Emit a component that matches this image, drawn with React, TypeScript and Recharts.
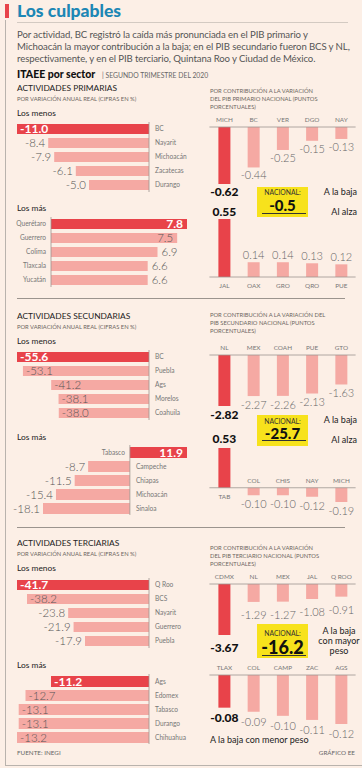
import React from 'react';
import { BarChart, Bar, XAxis, YAxis, ReferenceLine } from 'recharts';

const RED = '#e8434a';
const PINK = '#f5a9a3';
const BG = '#fcefe6';
const TEAL = '#1d87b5';
const YELLOW = '#f7e21c';
const FRAME = '#b9b3ad';
const FONT = 'Lato, "Open Sans", sans-serif';

// Actividades primarias
const primMenosNames = ['BC', 'Nayarit', 'Michoacán', 'Zacatecas', 'Durango'];
const primMenosValues = [-11.0, -8.4, -7.9, -6.1, -5.0];
const primMasNames = ['Querétaro', 'Guerrero', 'Colima', 'Tlaxcala', 'Yucatán'];
const primMasValues = [7.8, 7.5, 6.9, 6.6, 6.6];
const primBajaStates = ['MICH', 'BC', 'VER', 'DGO', 'NAY'];
const primBajaValues = [-0.62, -0.44, -0.25, -0.15, -0.13];
const primAlzaStates = ['JAL', 'OAX', 'GRO', 'QRO', 'PUE'];
const primAlzaValues = [0.55, 0.14, 0.14, 0.13, 0.12];
const primNacional = '-0.5';

// Actividades secundarias
const secMenosNames = ['BC', 'Puebla', 'Ags', 'Morelos', 'Coahuila'];
const secMenosValues = [-55.6, -53.1, -41.2, -38.1, -38.0];
const secMasNames = ['Tabasco', 'Campeche', 'Chiapas', 'Michoacán', 'Sinaloa'];
const secMasValues = [11.9, -8.7, -11.5, -15.4, -18.1];
const secBajaStates = ['NL', 'MEX', 'COAH', 'PUE', 'GTO'];
const secBajaValues = [-2.82, -2.27, -2.26, -2.13, -1.63];
const secAlzaStates = ['TAB', 'COL', 'CHIS', 'NAY', 'MICH'];
const secAlzaValues = [0.53, -0.1, -0.1, -0.12, -0.19];
const secNacional = '-25.7';

// Actividades terciarias
const terMenosNames = ['Q Roo', 'BCS', 'Nayarit', 'Guerrero', 'Puebla'];
const terMenosValues = [-41.7, -38.2, -23.8, -21.9, -17.9];
const terMasNames = ['Ags', 'Edomex', 'Tabasco', 'Durango', 'Chihuahua'];
const terMasValues = [-11.2, -12.7, -13.1, -13.1, -13.2];
const terBajaStates = ['CDMX', 'NL', 'MEX', 'JAL', 'Q ROO'];
const terBajaValues = [-3.67, -1.29, -1.27, -1.08, -0.91];
const terMenorStates = ['TLAX', 'COL', 'CAMP', 'ZAC', 'AGS'];
const terMenorValues = [-0.08, -0.09, -0.1, -0.11, -0.12];
const terNacional = '-16.2';

type Anchor = 'start' | 'middle' | 'end';

function Txt({ x, y, size, children, color = '#333', weight = 400, anchor = 'start', ls = 0 }: {
  x: number; y: number; size: number; children: React.ReactNode; color?: string; weight?: number; anchor?: Anchor; ls?: number;
}) {
  const style: React.CSSProperties = {
    position: 'absolute',
    top: y - size * 0.62,
    fontSize: size,
    lineHeight: `${size * 1.2}px`,
    color,
    fontWeight: weight,
    whiteSpace: 'nowrap',
    letterSpacing: ls,
    fontFamily: FONT,
  };
  if (anchor === 'start') style.left = x;
  else if (anchor === 'end') style.right = 362 - x;
  else {
    style.left = x;
    style.transform = 'translateX(-50%)';
  }
  return <div style={style}>{children}</div>;
}

function Rule({ x, y, w, h = 1, color = '#a9a29c' }: { x: number; y: number; w: number; h?: number; color?: string }) {
  return <div style={{ position: 'absolute', left: x, top: y, width: w, height: h, background: color }} />;
}

// horizontal bars (variación anual)
function HBars({ top, names, values, domain, base, plotLeft, plotRight, barSize, labelMin = 20 }: {
  top: number; names: string[]; values: number[]; domain: [number, number]; base: number;
  plotLeft: number; plotRight: number; barSize: number; labelMin?: number;
}) {
  const W = 200;
  const data = names.map((name, i) => ({
    name,
    value: values[i],
    idx: i,
    range: [Math.min(values[i], base), Math.max(values[i], base)],
  }));

  const shape = (p: any) => {
    const { x, y, width, height, payload } = p;
    const left = Math.min(x, x + width);
    const right = Math.max(x, x + width);
    const h = Math.abs(height);
    const t = Math.min(y, y + height);
    const cy = t + h / 2;
    const hi = payload.idx === 0;
    const str = payload.value.toFixed(1);
    const toLeft = payload.value < base;
    const tw = str.length * 6;
    let vx: number;
    let anchor: Anchor;
    if (toLeft) {
      if (hi || left - 3 - tw < labelMin) { vx = left + 3; anchor = 'start'; }
      else { vx = left - 3; anchor = 'end'; }
    } else {
      if (hi || right + 4 + tw > plotRight + 6) { vx = right - 4; anchor = 'end'; }
      else { vx = right + 4; anchor = 'start'; }
    }
    return (
      <g>
        <rect x={left} y={t} width={right - left} height={h} fill={hi ? RED : PINK} />
        <text x={vx} y={cy} dy="0.37em" textAnchor={anchor} fontSize={hi ? 12 : 11.5}
          fontWeight={hi ? 700 : 300} fill={hi ? '#fff' : '#555'} fontFamily={FONT}>{str}</text>
        <text x={toLeft ? right + 6 : left - 5} y={cy} dy="0.36em" textAnchor={toLeft ? 'start' : 'end'}
          fontSize={6.6} fill="#777" fontFamily={FONT}>{payload.name}</text>
      </g>
    );
  };

  return (
    <div style={{ position: 'absolute', left: 0, top }}>
      <BarChart width={W} height={70} data={data} layout="vertical"
        margin={{ top: 0, right: W - plotRight, left: plotLeft, bottom: 0 }}>
        <XAxis type="number" domain={domain} hide />
        <YAxis type="category" dataKey="name" hide />
        <ReferenceLine x={base} stroke="#9c9590" strokeWidth={0.8} />
        <Bar dataKey="range" barSize={barSize} shape={shape} isAnimationActive={false} />
      </BarChart>
    </div>
  );
}

// vertical bars (contribución)
function VBars({ top, height, states, values, domain, plotTop, plotBottom, offset, barSize = 12 }: {
  top: number; height: number; states: string[]; values: number[]; domain: [number, number];
  plotTop: number; plotBottom: number; offset: number; barSize?: number;
}) {
  const W = 160;
  const data = states.map((state, i) => ({ state, value: values[i], idx: i }));

  const shape = (p: any) => {
    const { x, y, width, height: hh, payload } = p;
    const t = Math.min(y, y + hh);
    const b = Math.max(y, y + hh);
    const cx = x + width / 2;
    const neg = payload.value < 0;
    const zero = neg ? t : b;
    const hi = payload.idx === 0;
    const str = payload.value.toFixed(2);
    const vy = neg ? b + offset : t - offset;
    const ny = neg ? zero - 7 : zero + 9;
    return (
      <g>
        <rect x={x} y={t} width={width} height={b - t} fill={hi ? RED : PINK} />
        <text x={cx} y={vy} dy="0.36em" textAnchor="middle" fontSize={hi ? 12 : 11}
          fontWeight={hi ? 900 : 300} fill={hi ? '#111' : '#666'} fontFamily={FONT}>{str}</text>
        <text x={cx} y={ny} dy="0.36em" textAnchor="middle" fontSize={6.4} fill="#777"
          fontFamily={FONT}>{payload.state}</text>
      </g>
    );
  };

  return (
    <div style={{ position: 'absolute', left: 200, top }}>
      <BarChart width={W} height={height} data={data}
        margin={{ top: plotTop - top, right: 4.4, left: 9.4, bottom: top + height - plotBottom }}>
        <XAxis type="category" dataKey="state" hide />
        <YAxis type="number" domain={domain} hide />
        <ReferenceLine y={0} stroke="#9c9590" strokeWidth={0.8} />
        <Bar dataKey="value" barSize={barSize} shape={shape} isAnimationActive={false} />
      </BarChart>
    </div>
  );
}

function Nacional({ top, h, value, size, nacY, valY, lineY }: {
  top: number; h: number; value: string; size: number; nacY: number; valY: number; lineY: number;
}) {
  return (
    <div style={{ position: 'absolute', left: 257, top, width: 51, height: h, background: YELLOW, fontFamily: FONT }}>
      <div style={{ position: 'absolute', left: 0, width: 51, top: nacY - 3.5, height: 7, textAlign: 'center', fontSize: 6.8, color: '#333', lineHeight: '7px' }}>
        NACIONAL:
      </div>
      <div style={{ position: 'absolute', left: 0, width: 51, top: valY - size / 2, height: size, textAlign: 'center', fontSize: size, fontWeight: 900, color: '#111', lineHeight: `${size}px` }}>
        {value}
      </div>
      <div style={{ position: 'absolute', left: 5, width: 44, top: lineY, height: 1, background: '#333' }} />
    </div>
  );
}

function SubRight({ y, lines }: { y: number; lines: string[] }) {
  return (
    <>
      {lines.map((l, i) => (
        <Txt key={i} x={210} y={y + i * 8} size={5.8} color="#6d6661">{l}</Txt>
      ))}
    </>
  );
}

function SectionHead({ y, title }: { y: number; title: string }) {
  return (
    <>
      <Txt x={17} y={y} size={8.4} color="#222" weight={400}>{title}</Txt>
      <Txt x={17} y={y + 12} size={5.8} color="#6d6661">POR VARIACIÓN ANUAL REAL (CIFRAS EN %)</Txt>
      <Txt x={17} y={y + 25} size={8.4} color="#222">Los menos</Txt>
    </>
  );
}

export default function App() {
  return (
    <div style={{ position: 'absolute', left: 0, top: 0, width: 362, height: 768, background: BG, overflow: 'hidden', fontFamily: FONT }}>
      <Rule x={5} y={20} w={1} h={745} color={FRAME} />
      <Rule x={5} y={765} w={357} color={FRAME} />
      <Rule x={5} y={4} w={4} h={14} color={RED} />
      <Txt x={17} y={11} size={17.5} weight={900} color={TEAL}>Los culpables</Txt>
      <Rule x={17} y={22} w={331} color="#d3cac2" />

      <Txt x={17} y={35} size={9.6} color="#555" ls={-0.1}>Por actividad, BC registró la caída más pronunciada en el PIB primario y</Txt>
      <Txt x={17} y={47} size={9.6} color="#555" ls={-0.1}>Michoacán la mayor contribución a la baja; en el PIB secundario fueron BCS y NL,</Txt>
      <Txt x={17} y={59} size={9.6} color="#555" ls={-0.1}>respectivamente, y en el PIB terciario, Quintana Roo y Ciudad de México.</Txt>

      <Txt x={17} y={75} size={10.5} weight={900} color="#111">ITAEE por sector</Txt>
      <Txt x={102} y={75} size={6.8} color="#666">| SEGUNDO TRIMESTRE DEL 2020</Txt>

      {/* primarias */}
      <SectionHead y={88} title="ACTIVIDADES PRIMARIAS" />
      <HBars top={122.3} names={primMenosNames} values={primMenosValues} domain={[-11, 0]} base={0}
        plotLeft={17} plotRight={149} barSize={10} />
      <Txt x={17} y={208} size={8.4} color="#222">Los más</Txt>
      <HBars top={217.3} names={primMasNames} values={primMasValues} domain={[3.65, 7.8]} base={3.65}
        plotLeft={51} plotRight={187} barSize={10} />
      <SubRight y={92} lines={['POR CONTRIBUCIÓN A LA VARIACIÓN', 'DEL PIB PRIMARIO NACIONAL (PUNTOS', 'PORCENTUALES)']} />
      <VBars top={110} height={90} states={primBajaStates} values={primBajaValues} domain={[-0.62, 0]}
        plotTop={127} plotBottom={184} offset={8} />
      <VBars top={200} height={95} states={primAlzaStates} values={primAlzaValues} domain={[0, 0.55]}
        plotTop={219} plotBottom={277} offset={7} />
      <Nacional top={187} h={30} value={primNacional} size={15} nacY={5.5} valY={18} lineY={26} />
      <Txt x={357} y={193} size={9} color="#222" anchor="end">A la baja</Txt>
      <Txt x={357} y={213} size={9} color="#222" anchor="end">Al alza</Txt>
      <Rule x={17} y={298} w={328} color="#9b948e" />

      {/* secundarias */}
      <SectionHead y={316} title="ACTIVIDADES SECUNDARIAS" />
      <HBars top={349.7} names={secMenosNames} values={secMenosValues} domain={[-55.6, 0]} base={0}
        plotLeft={17} plotRight={149} barSize={10} labelMin={70} />
      <Txt x={17} y={437} size={8.4} color="#222">Los más</Txt>
      <HBars top={445.2} names={secMasNames} values={secMasValues} domain={[-18.1, 11.9]} base={0}
        plotLeft={43} plotRight={187} barSize={11} labelMin={0} />
      <SubRight y={316} lines={['POR CONTRIBUCIÓN A LA VARIACIÓN DEL', 'PIB SECUNDARIO NACIONAL (PUNTOS', 'PORCENTUALES)']} />
      <VBars top={338} height={86} states={secBajaStates} values={secBajaValues} domain={[-2.82, 0]}
        plotTop={355} plotBottom={406} offset={9} />
      <VBars top={430} height={92} states={secAlzaStates} values={secAlzaValues} domain={[-0.19, 0.53]}
        plotTop={448} plotBottom={502} offset={9} />
      <Nacional top={415} h={31} value={secNacional} size={15} nacY={6.5} valY={18} lineY={25} />
      <Txt x={357} y={421} size={9} color="#222" anchor="end">A la baja</Txt>
      <Txt x={357} y={441} size={9} color="#222" anchor="end">Al alza</Txt>
      <Rule x={17} y={527} w={328} color="#9b948e" />

      {/* terciarias */}
      <SectionHead y={543} title="ACTIVIDADES TERCIARIAS" />
      <HBars top={578} names={terMenosNames} values={terMenosValues} domain={[-41.7, 4.5]} base={4.5}
        plotLeft={17} plotRight={149} barSize={10} />
      <Txt x={17} y={665} size={8.4} color="#222">Los más</Txt>
      <HBars top={673.5} names={terMasNames} values={terMasValues} domain={[-13.2, -5.44]} base={-5.44}
        plotLeft={17} plotRight={149} barSize={11} />
      <SubRight y={549} lines={['POR CONTRIBUCIÓN A LA VARIACIÓN', 'DEL PIB TERCIARIO NACIONAL (PUNTOS', 'PORCENTUALES)']} />
      <VBars top={567} height={90} states={terBajaStates} values={terBajaValues} domain={[-3.67, 0]}
        plotTop={584} plotBottom={635} offset={13} />
      <VBars top={657} height={85} states={terMenorStates} values={terMenorValues} domain={[-0.12, 0]}
        plotTop={675} plotBottom={724} offset={10} />
      <Nacional top={624} h={34} value={terNacional} size={18} nacY={9.5} valY={23} lineY={31} />
      <Txt x={339} y={632} size={9} color="#222" anchor="middle">A la baja</Txt>
      <Txt x={339} y={642} size={9} color="#222" anchor="middle">con mayor</Txt>
      <Txt x={339} y={652} size={9} color="#222" anchor="middle">peso</Txt>
      <Txt x={210} y={741} size={9} color="#222">A la baja con menor peso</Txt>

      <Txt x={17} y={753} size={6.3} color="#666">FUENTE: INEGI</Txt>
      <Txt x={355} y={753} size={6.3} color="#666" anchor="end">GRÁFICO EE</Txt>
    </div>
  );
}
